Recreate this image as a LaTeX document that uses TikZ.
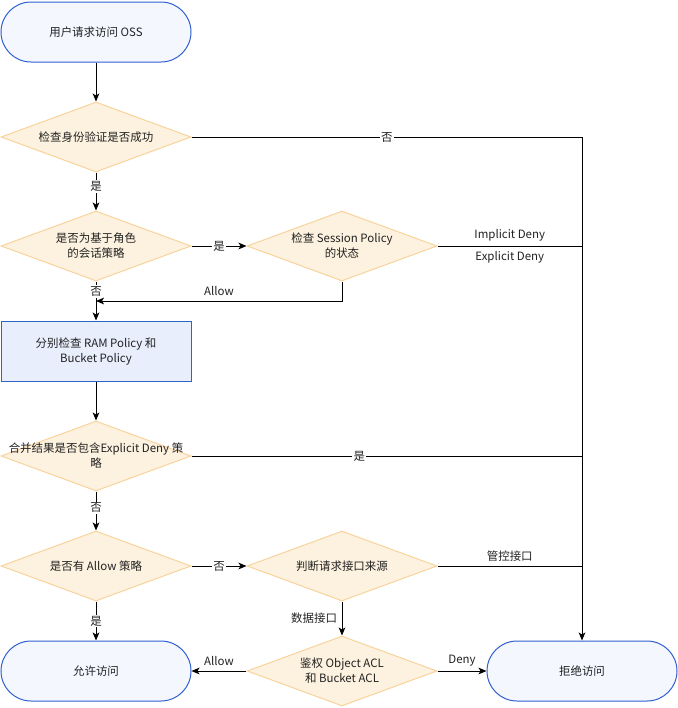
\documentclass[tikz,border=0pt]{standalone}
\usepackage{fontspec}
\setmainfont{Noto Sans CJK SC}
\usetikzlibrary{shapes.geometric,arrows.meta}
\definecolor{termfill}{HTML}{F5F7FF}
\definecolor{termline}{HTML}{2F5FD0}
\definecolor{procfill}{HTML}{E8EEFC}
\definecolor{procline}{HTML}{2D64C8}
\definecolor{decfill}{HTML}{FDF2DF}
\definecolor{decline}{HTML}{F8D39B}
\definecolor{txtgray}{HTML}{222222}
\begin{document}
\begin{tikzpicture}
  [x=0.75pt, y=-0.75pt,
   every node/.style={font=\fontsize{8.6}{11.25}\selectfont, text=txtgray, align=center},
   terminal/.style={draw=termline, fill=termfill, line width=0.75pt, rounded corners=22.5pt,
     minimum width=142.5pt, minimum height=45pt, inner sep=0pt},
   process/.style={draw=procline, fill=procfill, line width=0.75pt,
     minimum width=142.5pt, minimum height=45pt, inner sep=0pt},
   decision/.style={diamond, draw=decline, fill=decfill, line width=0.75pt,
     minimum width=142.5pt, minimum height=52.5pt, inner sep=0pt},
   flow/.style={line width=0.75pt, -{Stealth[length=6pt,width=5pt,inset=1.5pt]}},
   link/.style={line width=0.75pt},
   onlbl/.style={fill=white, inner sep=1pt}]
  \useasboundingbox (0,0) rectangle (678,708);

  % shapes
  \node[terminal] (start) at (96,32) {用户请求访问 OSS};
  \node[decision, label={center:检查身份验证是否成功}] (auth) at (96,137) {};
  \node[decision, label={[align=center]center:是否为基于角色\\的会话策略}] (role) at (96,246) {};
  \node[decision, label={[align=center]center:检查 Session Policy\\的状态}] (sess) at (342,246) {};
  \node[process] (check) at (96,351) {分别检查 RAM Policy 和\\Bucket Policy};
  \node[decision, label={[align=center]center:合并结果是否包含Explicit Deny 策\\略}] (merge) at (96,456) {};
  \node[decision, label={center:是否有 Allow 策略}] (allow) at (96,566) {};
  \node[decision, label={center:判断请求接口来源}] (src) at (342,566) {};
  \node[decision, label={[align=center]center:鉴权 Object ACL\\和 Bucket ACL}] (acl) at (342,671) {};
  \node[terminal] (grant) at (96,671) {允许访问};
  \node[terminal] (deny) at (582,671) {拒绝访问};

  \coordinate (r1) at (582,137);
  \coordinate (r2) at (582,246);
  \coordinate (r3) at (582,456);
  \coordinate (r4) at (582,566);
  \coordinate (back) at (342,301);
  \coordinate (join) at (96,301);

  % connectors
  \draw[flow] (start) -- (auth);
  \draw[flow] (auth) -- node[onlbl, pos=0.5] {否} (r1) -- (deny);
  \draw[flow] (auth) -- node[onlbl, pos=0.36] {是} (role);
  \draw[flow] (role) -- node[onlbl] {是} (sess);
  \draw[link] (sess) -- node[above, pos=0.5] {Implicit Deny} node[below, pos=0.5] {Explicit Deny} (r2);
  \draw[flow] (sess) -- (back) -- node[above] {Allow} (join);
  \draw[flow] (role) -- node[onlbl, pos=0.25] {否} (check);
  \draw[flow] (check) -- (merge);
  \draw[link] (merge) -- node[onlbl, pos=0.43] {是} (r3);
  \draw[flow] (merge) -- node[onlbl, pos=0.42] {否} (allow);
  \draw[flow] (allow) -- node[onlbl] {否} (src);
  \draw[flow] (allow) -- node[onlbl] {是} (grant);
  \draw[link] (src) -- node[above] {管控接口} (r4);
  \draw[flow] (src) -- node[left] {数据接口} (acl);
  \draw[flow] (acl) -- node[above] {Allow} (grant);
  \draw[flow] (acl) -- node[above] {Deny} (deny);
\end{tikzpicture}
\end{document}
